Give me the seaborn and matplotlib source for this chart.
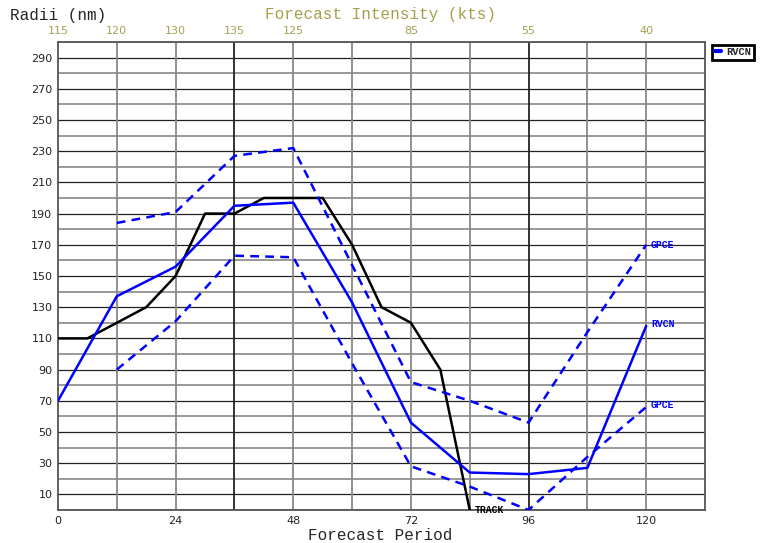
import numpy as np
import pandas as pd
import seaborn as sns
import matplotlib.pyplot as plt
from matplotlib.lines import Line2D

# forecast hours
track_hours = [0, 6, 12, 18, 24, 30, 36, 42, 48, 54, 60, 66, 72, 78, 84]
track_radii = [110, 110, 120, 130, 150, 190, 190, 200, 200, 200, 170, 130, 120, 90, 0]

hours = [0, 12, 24, 36, 48, 60, 72, 84, 96, 108, 120]
rvcn_radii = [70, 137, 156, 195, 197, 133, 56, 24, 23, 27, 118]

gpce_hours = [12, 24, 36, 48, 60, 72, 84, 96, 108, 120]
gpce_upper = [184, 191, 227, 232, 157, 82, 70, 56, 114, 170]
gpce_lower = [90, 121, 163, 162, 94, 28, 15, 0, 34, 66]

intensity_hours = [0, 12, 24, 36, 48, 72, 96, 120]
intensity_kts = ["115", "120", "130", "135", "125", "85", "55", "40"]

df = pd.concat([
    pd.DataFrame({"hour": track_hours, "radii": track_radii, "series": "TRACK"}),
    pd.DataFrame({"hour": hours, "radii": rvcn_radii, "series": "RVCN"}),
    pd.DataFrame({"hour": gpce_hours, "radii": gpce_upper, "series": "GPCE_hi"}),
    pd.DataFrame({"hour": gpce_hours, "radii": gpce_lower, "series": "GPCE_lo"}),
])

sns.set_style("white")
mono = "Liberation Mono"
olive = "#a4a04e"

fig = plt.figure(figsize=(7.65, 5.43), dpi=100)
ax = fig.add_axes([0.0758, 0.0608, 0.8458, 0.8619])

# grid
for v in range(0, 301, 10):
    if v % 20 == 10:
        ax.axhline(v, color="#222222", lw=0.9, zorder=1)
    else:
        ax.axhline(v, color="#999999", lw=1.4, zorder=1)
for h in range(12, 132, 12):
    c = "#222222" if h in (36, 96) else "#888888"
    ax.axvline(h, color=c, lw=1.3, zorder=1)

styles = {
    "TRACK": dict(color="black", ls="-"),
    "RVCN": dict(color="#0000ff", ls="-"),
    "GPCE_hi": dict(color="#0000ff", ls=(0, (3.5, 2.5))),
    "GPCE_lo": dict(color="#0000ff", ls=(0, (3.5, 2.5))),
}
for name, st in styles.items():
    sub = df[df.series == name]
    sns.lineplot(data=sub, x="hour", y="radii", ax=ax, color=st["color"],
                 linestyle=st["ls"], lw=1.8, zorder=3, legend=False)

ax.set_xlim(0, 132)
ax.set_ylim(0, 300)
ax.set_xticks([0, 24, 48, 72, 96, 120])
ax.set_yticks(list(range(10, 300, 20)))
ax.tick_params(axis="both", labelsize=8, length=0, pad=4, colors="#222222")
ax.set_xlabel("")
ax.set_ylabel("")
for s in ax.spines.values():
    s.set_color("#555555")
    s.set_linewidth(1.3)

# top intensity axis
top = ax.secondary_xaxis("top")
top.set_xticks(intensity_hours)
top.set_xticklabels(intensity_kts)
top.tick_params(length=0, labelsize=8, colors=olive, pad=4)
top.spines["top"].set_visible(False)

fig.text(0.013, 0.971, "Radii (nm)", family=mono, fontsize=11.5, va="center")
fig.text(0.497, 0.973, "Forecast Intensity (kts)", family=mono, fontsize=11.5,
         va="center", ha="center", color=olive)
fig.text(0.497, 0.006, "Forecast Period", family=mono, fontsize=11.5,
         va="baseline", ha="center")

# line end labels
ax.text(121, gpce_upper[-1], "GPCE", family=mono, fontsize=7, color="#0000ff",
        va="center", fontweight="bold")
ax.text(121, rvcn_radii[-1] + 1, "RVCN", family=mono, fontsize=7, color="#0000ff",
        va="center", fontweight="bold")
ax.text(121, gpce_lower[-1] + 1, "GPCE", family=mono, fontsize=7, color="#0000ff",
        va="center", fontweight="bold")
ax.text(85, 0, "TRACK", family=mono, fontsize=7, color="black",
        va="center", fontweight="bold", clip_on=False)

handle = [Line2D([0], [0], color="#0000ff", lw=3)]
leg = fig.legend(handle, ["RVCN"], loc="upper left", bbox_to_anchor=(0.931, 0.918),
                 prop={"family": mono, "size": 7.5, "weight": "bold"},
                 handlelength=0.6, handletextpad=0.5, borderpad=0.25,
                 borderaxespad=0, frameon=True, fancybox=False, framealpha=1)
leg.get_frame().set_edgecolor("black")
leg.get_frame().set_linewidth(2)

fig.savefig("out.png", dpi=100)
